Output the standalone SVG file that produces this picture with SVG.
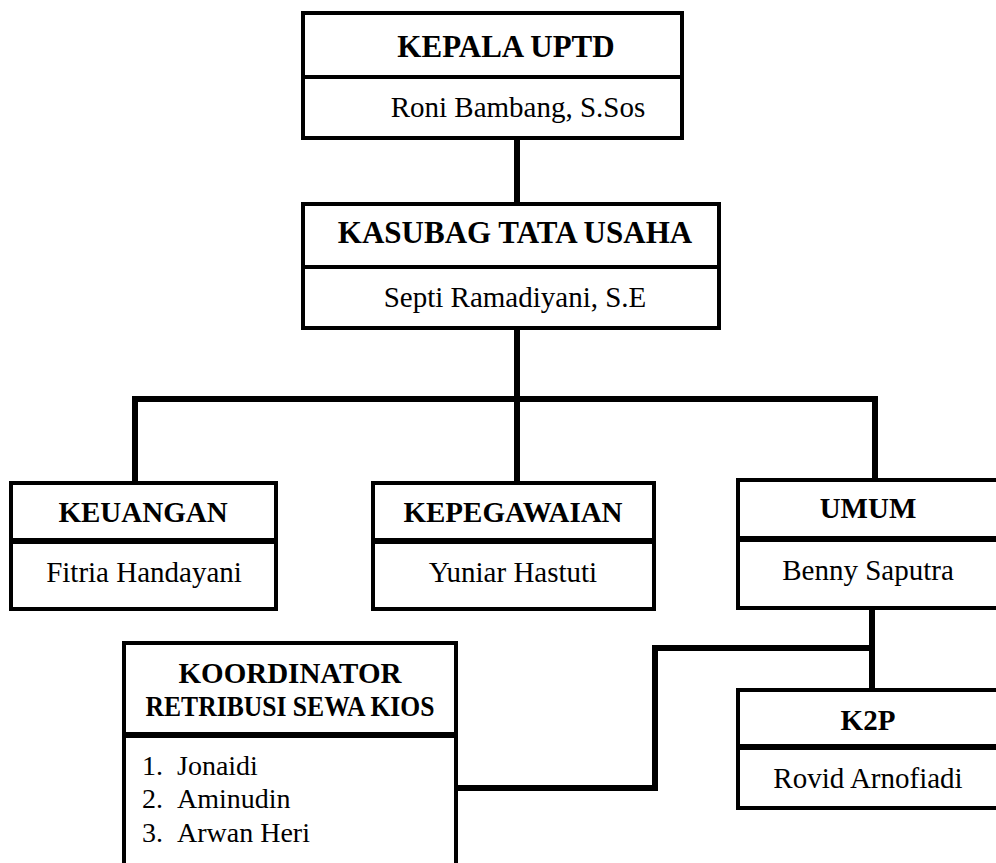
<svg xmlns="http://www.w3.org/2000/svg" width="996" height="863" viewBox="0 0 996 863">
<style>
.box{fill:#fff;stroke:#000;stroke-width:4}
.div{stroke:#000;stroke-width:4}
.div2{stroke:#000;stroke-width:6}
.con{fill:none;stroke:#000;stroke-width:6;stroke-linejoin:miter}
.H{font-family:'Liberation Serif';font-weight:bold;font-size:31px;text-anchor:middle;fill:#000}
.h{font-family:'Liberation Serif';font-weight:bold;font-size:29px;text-anchor:middle;fill:#000}
.t{font-family:'Liberation Serif';font-size:29px;text-anchor:middle;fill:#000}
.l{font-family:'Liberation Serif';font-size:28px;fill:#000}
</style>
<rect width="996" height="863" fill="#fff"/>
<g id="connectors">
<path class="con" d="M517 138 V204"/>
<path class="con" d="M517 328 V483"/>
<path class="con" d="M135 483 V399 H875 V480"/>
<path class="con" d="M872 608 V690"/>
<path class="con" d="M872 648 H655 V788 H456"/>
</g>
<g id="kepala">
<rect class="box" x="303" y="13" width="379" height="125"/>
<line class="div" x1="303" y1="77" x2="682" y2="77"/>
<text class="H" font-family="Liberation Serif" x="506" y="57">KEPALA UPTD</text>
<text class="t" font-family="Liberation Serif" x="518" y="117">Roni Bambang, S.Sos</text>
</g>
<g id="kasubag">
<rect class="box" x="303" y="204" width="416" height="124"/>
<line class="div" x1="303" y1="267" x2="719" y2="267"/>
<text class="H" font-family="Liberation Serif" x="515" y="243">KASUBAG TATA USAHA</text>
<text class="t" font-family="Liberation Serif" x="515" y="307">Septi Ramadiyani, S.E</text>
</g>
<g id="keuangan">
<rect class="box" x="11" y="483" width="265" height="126"/>
<line class="div2" x1="11" y1="541" x2="276" y2="541"/>
<text class="h" font-family="Liberation Serif" x="143" y="522">KEUANGAN</text>
<text class="t" font-family="Liberation Serif" x="144" y="582">Fitria Handayani</text>
</g>
<g id="kepegawaian">
<rect class="box" x="373" y="483" width="281" height="126"/>
<line class="div2" x1="373" y1="541" x2="654" y2="541"/>
<text class="h" font-family="Liberation Serif" x="513" y="522">KEPEGAWAIAN</text>
<text class="t" font-family="Liberation Serif" x="513" y="582">Yuniar Hastuti</text>
</g>
<g id="umum">
<rect class="box" x="738" y="480" width="270" height="128"/>
<line class="div2" x1="738" y1="539" x2="1000" y2="539"/>
<text class="h" font-family="Liberation Serif" x="868" y="518">UMUM</text>
<text class="t" font-family="Liberation Serif" x="868" y="580">Benny Saputra</text>
</g>
<g id="k2p">
<rect class="box" x="738" y="690" width="270" height="118"/>
<line class="div2" x1="738" y1="747" x2="1000" y2="747"/>
<text class="h" font-family="Liberation Serif" x="868" y="730">K2P</text>
<text class="t" font-family="Liberation Serif" x="868" y="788">Rovid Arnofiadi</text>
</g>
<g id="koordinator">
<rect class="box" x="124" y="643" width="332" height="240"/>
<line class="div2" x1="124" y1="735" x2="456" y2="735"/>
<text class="h" font-family="Liberation Serif" x="290" y="683">KOORDINATOR</text>
<text class="h" font-family="Liberation Serif" x="290" y="716" textLength="289" lengthAdjust="spacingAndGlyphs">RETRIBUSI SEWA KIOS</text>
<text class="l" font-family="Liberation Serif" y="775"><tspan x="142">1.</tspan><tspan x="177">Jonaidi</tspan></text>
<text class="l" font-family="Liberation Serif" y="808"><tspan x="142">2.</tspan><tspan x="177">Aminudin</tspan></text>
<text class="l" font-family="Liberation Serif" y="842"><tspan x="142">3.</tspan><tspan x="177">Arwan Heri</tspan></text>
</g>
</svg>
